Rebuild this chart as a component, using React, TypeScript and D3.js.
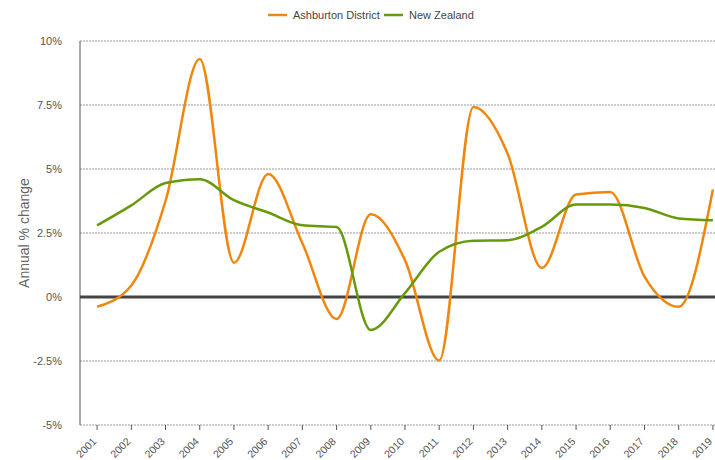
import React from "react";
import * as d3 from "d3";

const years = [
  "2001", "2002", "2003", "2004", "2005", "2006", "2007", "2008", "2009", "2010",
  "2011", "2012", "2013", "2014", "2015", "2016", "2017", "2018", "2019",
];
const ashburton = [
  -0.38, 0.45, 3.75, 9.3, 1.34, 4.8, 2.1, -0.86, 3.23, 1.44,
  -2.48, 7.42, 5.6, 1.13, 4.0, 4.1, 0.8, -0.38, 4.2,
];
const newZealand = [
  2.8, 3.58, 4.45, 4.6, 3.78, 3.3, 2.8, 2.73, -1.29, 0.15,
  1.77, 2.2, 2.22, 2.74, 3.61, 3.61, 3.48, 3.07, 3.0,
];
const yTicks = [-5, -2.5, 0, 2.5, 5, 7.5, 10];

const series = [
  { name: "Ashburton District", values: ashburton, color: "#f0860c" },
  { name: "New Zealand", values: newZealand, color: "#679a0a" },
];

const font = "'Liberation Sans', Arial, sans-serif";

export default function App() {
  const width = 715;
  const height = 460;
  const left = 80;
  const top = 41;
  const bottom = 425;

  const x = d3.scalePoint<string>().domain(years).range([left, 730]).padding(0.5);
  const y = d3.scaleLinear().domain([-5, 10]).range([bottom, top]);

  const line = d3
    .line<number>()
    .x((_, i) => x(years[i]) as number)
    .y((d) => y(d))
    .curve(d3.curveMonotoneX);

  return (
    <svg
      width={width}
      height={height}
      style={{ position: "absolute", left: 0, top: 0, fontFamily: font }}
    >
      {/* legend */}
      <g transform="translate(268,15)">
        <line x1={0} x2={19} y1={0} y2={0} stroke={series[0].color} strokeWidth={2.5} />
        <text x={25} y={4} fontSize={11} fill="#444">{series[0].name}</text>
        <line x1={116} x2={135} y1={0} y2={0} stroke={series[1].color} strokeWidth={2.5} />
        <text x={141} y={4} fontSize={11} fill="#444">{series[1].name}</text>
      </g>

      {/* grid */}
      {yTicks.map((t) => (
        <g key={t}>
          {t !== 0 && (
            <line
              x1={left}
              x2={width}
              y1={y(t)}
              y2={y(t)}
              stroke="#999"
              strokeWidth={1}
              strokeDasharray="2,1"
            />
          )}
          <text
            x={62}
            y={y(t) + 4}
            textAnchor="end"
            fontSize={11}
            fill="#555"
          >
            {`${t}%`}
          </text>
        </g>
      ))}

      {/* left axis */}
      <line x1={left} x2={left} y1={top} y2={bottom} stroke="#555" strokeWidth={1} />

      {/* x ticks */}
      {years.map((yr) => {
        const px = x(yr) as number;
        return (
          <g key={yr}>
            <line x1={px} x2={px} y1={bottom} y2={bottom + 5} stroke="#555" />
            <text
              transform={`translate(${px},${bottom + 17}) rotate(-45)`}
              textAnchor="end"
              fontSize={10.5}
              fill="#555"
            >
              {yr}
            </text>
          </g>
        );
      })}

      {/* zero line */}
      <line x1={left} x2={width} y1={y(0)} y2={y(0)} stroke="#444" strokeWidth={3} />

      {/* y title */}
      <text
        transform={`translate(29,${(top + bottom) / 2}) rotate(-90)`}
        textAnchor="middle"
        fontSize={14}
        fill="#666"
      >
        Annual % change
      </text>

      {/* series */}
      {series.map((s) => (
        <path
          key={s.name}
          d={line(s.values) || ""}
          fill="none"
          stroke={s.color}
          strokeWidth={2.5}
        />
      ))}
    </svg>
  );
}
